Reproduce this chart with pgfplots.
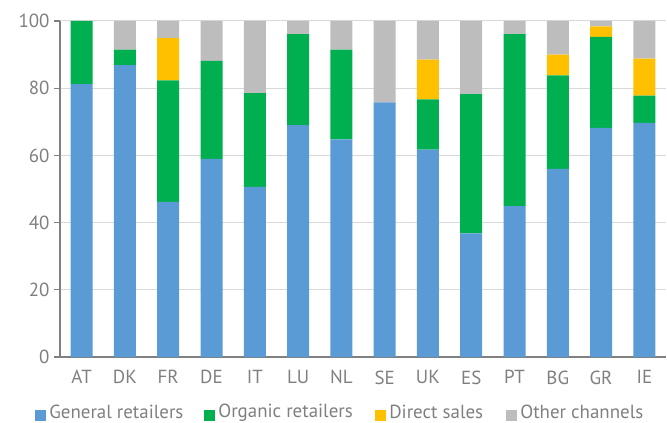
\documentclass[border=0pt]{standalone}
\usepackage{fontspec}
\setmainfont{PT Sans}
\usepackage{pgfplots}
\pgfplotsset{compat=1.18}
\definecolor{cgen}{HTML}{5B9BD5}
\definecolor{corg}{HTML}{00B050}
\definecolor{cdir}{HTML}{FFC000}
\definecolor{coth}{HTML}{BDBDBD}
\definecolor{txt}{HTML}{7F7F7F}
\definecolor{axl}{HTML}{808080}
\definecolor{grd}{HTML}{D9D9D9}
\newcommand{\sq}[1]{\tikz[baseline=-0.1em]\fill[#1] (0,-5bp) rectangle (11bp,6bp);}
\newcommand{\lfont}{\fontsize{19}{22}\selectfont}

\begin{document}
\begin{tikzpicture}
\begin{axis}[
  scale only axis, width=606bp, height=336bp,
  ybar stacked, bar width=22bp,
  xmin=-0.5, xmax=13.5, ymin=0, ymax=100,
  xtick={0,...,13},
  xticklabels={AT,DK,FR,DE,IT,LU,NL,SE,UK,ES,PT,BG,GR,IE},
  minor xtick={-0.5,0.5,...,12.5},
  ytick={0,20,...,100},
  ymajorgrids, grid style={grd, line width=1pt},
  axis x line*=bottom, axis y line*=left,
  axis line style={axl, line width=1.3pt, -},
  x tick style={draw=none}, minor x tick style={axl, line width=1.3pt},
  y tick style={axl, line width=1.3pt},
  tick align=outside, major tick length=6bp, minor tick length=6bp,
  /pgf/number format/assume math mode=true,
  tick label style={font=\lfont, text=txt},
  yticklabel style={xshift=-1bp},
  xticklabel style={yshift=-4bp},
  every axis plot/.append style={draw=none},
]
\addplot[fill=cgen] coordinates {(0,81.2) (1,86.9) (2,46.2) (3,59.0) (4,50.6) (5,69.0) (6,64.8) (7,75.8) (8,61.7) (9,36.8) (10,44.9) (11,56.0) (12,68.2) (13,69.7)};
\addplot[fill=corg] coordinates {(0,18.8) (1,4.6) (2,36.1) (3,29.1) (4,27.9) (5,27.1) (6,26.7) (7,0) (8,15.0) (9,41.4) (10,51.2) (11,27.8) (12,27.1) (13,8.1)};
\addplot[fill=cdir] coordinates {(0,0) (1,0) (2,12.6) (3,0) (4,0) (5,0) (6,0) (7,0) (8,11.8) (9,0) (10,0) (11,6.2) (12,3.1) (13,11.0)};
\addplot[fill=coth] coordinates {(0,0) (1,8.5) (2,5.1) (3,11.9) (4,21.5) (5,3.9) (6,8.5) (7,24.2) (8,11.5) (9,21.8) (10,3.9) (11,10.0) (12,1.6) (13,11.2)};
% base line over the bars, as in the original
\draw[axl, line width=1.3pt] (axis cs:-0.5,0) -- (axis cs:13.5,0);
\end{axis}
\path (current axis.south west) ++(-60bp,-66bp) coordinate (bl);
\path[use as bounding box] (bl) rectangle ++(667bp,423bp);
\foreach \xx/\cc/\tt in {35/cgen/General retailers, 204/corg/Organic retailers, 375/cdir/Direct sales, 506/coth/Other channels}
  \path (bl) ++(\xx bp,10bp) node[anchor=west, inner sep=0pt, text=txt, font=\lfont] {\sq{\cc}\,\tt};
\end{tikzpicture}
\end{document}
